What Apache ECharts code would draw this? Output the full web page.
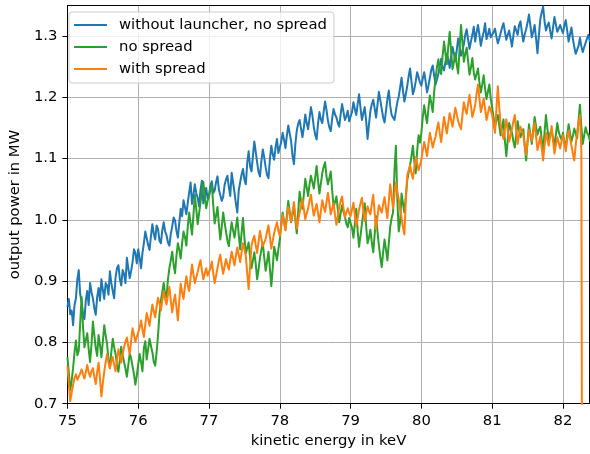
<!DOCTYPE html>
<html>
<head>
<meta charset="utf-8">
<script src="https://cdn.jsdelivr.net/npm/echarts@6/dist/echarts.min.js"></script>
<style>
html,body{margin:0;padding:0;background:#fff;}
#chart{width:590px;height:454px;}
</style>
</head>
<body>
<div id="chart"></div>
<script>
// kinetic energy sampling: each row covers one keV starting at X_START + rowIndex
const X_START = 75;
const X_STEP = 0.02;

// without launcher, no spread (MW)
const blueWithoutLauncher = [
 [0.858,0.871,0.846,0.852,0.828,0.861,0.872,0.903,0.918,0.879,0.866,0.847,0.838,0.869,0.884,0.861,0.897,0.882,0.872,0.856,0.845,0.874,0.889,0.868,0.903,0.886,0.871,0.897,0.893,0.878,0.916,0.897,0.884,0.872,0.906,0.921,0.926,0.904,0.893,0.918,0.912,0.897,0.938,0.921,0.905,0.917,0.931,0.952,0.946,0.929],
 [0.952,0.938,0.921,0.946,0.962,0.981,0.978,0.959,0.951,0.974,0.993,0.977,0.968,0.991,0.985,0.966,0.962,0.983,0.996,0.981,0.975,0.963,0.958,0.977,0.989,1.004,0.999,0.982,0.971,0.995,1.018,1.006,1.032,1.021,1.009,1.028,1.045,1.061,1.026,1.041,1.058,1.043,1.036,1.022,1.049,1.064,1.027,1.038,1.052,1.035],
 [1.041,1.056,1.063,1.044,1.048,1.062,1.071,1.049,1.052,1.031,1.038,1.057,1.066,1.072,1.054,1.039,1.077,1.061,1.045,1.026,1.012,1.048,1.061,1.074,1.083,1.066,1.058,1.093,1.112,1.087,1.079,1.104,1.128,1.111,1.094,1.078,1.071,1.096,1.115,1.102,1.086,1.073,1.068,1.099,1.121,1.107,1.098,1.118,1.132,1.109],
 [1.108,1.127,1.142,1.131,1.117,1.138,1.154,1.141,1.128,1.104,1.091,1.124,1.146,1.157,1.163,1.149,1.135,1.151,1.172,1.158,1.148,1.166,1.184,1.171,1.152,1.139,1.131,1.157,1.176,1.164,1.158,1.177,1.193,1.179,1.162,1.151,1.145,1.166,1.181,1.172,1.167,1.158,1.152,1.173,1.189,1.176,1.163,1.169,1.178,1.161],
 [1.158,1.176,1.192,1.181,1.171,1.189,1.205,1.183,1.163,1.174,1.184,1.161,1.132,1.156,1.178,1.189,1.196,1.182,1.167,1.188,1.209,1.195,1.181,1.167,1.159,1.178,1.197,1.211,1.186,1.171,1.172,1.163,1.178,1.192,1.201,1.216,1.232,1.211,1.193,1.205,1.218,1.234,1.247,1.226,1.205,1.213,1.226,1.241,1.238,1.224],
 [1.219,1.231,1.241,1.226,1.208,1.219,1.232,1.245,1.252,1.236,1.221,1.229,1.238,1.251,1.263,1.249,1.244,1.258,1.271,1.262,1.248,1.267,1.282,1.271,1.259,1.277,1.296,1.283,1.268,1.276,1.287,1.302,1.311,1.294,1.279,1.291,1.302,1.315,1.291,1.306,1.318,1.302,1.284,1.297,1.306,1.321,1.295,1.303,1.312,1.298],
 [1.297,1.306,1.312,1.299,1.288,1.296,1.305,1.314,1.321,1.307,1.294,1.302,1.309,1.296,1.283,1.301,1.316,1.309,1.302,1.318,1.324,1.306,1.291,1.303,1.311,1.322,1.335,1.317,1.298,1.307,1.318,1.296,1.272,1.301,1.327,1.339,1.348,1.324,1.309,1.317,1.322,1.308,1.296,1.314,1.331,1.319,1.307,1.312,1.318,1.311],
 [1.305,1.317,1.326,1.309,1.291,1.303,1.314,1.296,1.282,1.271,1.268,1.284,1.297,1.283,1.274,1.282,1.289,1.296,1.302,1.291,1.298]
];

// no spread (MW)
const greenNoSpread = [
 [0.776,0.751,0.722,0.738,0.758,0.784,0.803,0.779,0.786,0.831,0.874,0.826,0.792,0.804,0.815,0.789,0.768,0.797,0.834,0.812,0.791,0.778,0.812,0.796,0.776,0.801,0.828,0.812,0.797,0.772,0.758,0.784,0.806,0.792,0.781,0.764,0.752,0.771,0.793,0.779,0.768,0.757,0.744,0.763,0.782,0.774,0.761,0.748,0.731,0.746],
 [0.764,0.781,0.768,0.753,0.791,0.802,0.772,0.789,0.806,0.794,0.784,0.768,0.762,0.784,0.812,0.846,0.868,0.882,0.897,0.879,0.874,0.903,0.921,0.934,0.948,0.927,0.913,0.941,0.962,0.951,0.937,0.962,0.981,0.972,0.958,0.989,1.012,0.994,0.976,1.008,1.041,1.017,0.993,1.011,1.028,1.049,1.062,1.038,1.019,1.031],
 [1.038,1.049,1.057,1.024,0.994,1.007,1.021,0.992,0.968,0.989,1.012,0.996,0.981,0.966,0.957,0.978,0.996,0.983,0.971,0.988,1.004,0.976,0.952,0.979,1.003,0.971,0.945,0.954,0.963,0.939,0.921,0.934,0.947,0.928,0.903,0.919,0.938,0.951,0.962,0.939,0.917,0.932,0.948,0.921,0.892,0.921,0.956,0.946,0.934,0.952],
 [0.968,0.991,1.012,0.997,0.984,1.008,1.031,1.014,0.996,1.009,1.021,0.999,0.978,1.013,1.046,1.031,1.018,1.042,1.067,1.053,1.039,1.058,1.072,1.062,1.051,1.069,1.088,1.064,1.043,1.059,1.076,1.087,1.094,1.071,1.058,1.068,1.079,1.048,1.021,1.029,1.038,1.017,0.996,1.011,1.024,1.013,1.005,0.994,0.988,1.003],
 [1.002,0.987,0.971,0.994,1.018,0.982,0.956,0.974,0.993,1.011,1.027,0.989,0.962,0.971,0.984,0.963,0.947,0.976,1.006,0.981,0.958,0.939,0.923,0.947,0.968,0.952,0.934,0.962,0.989,1.003,1.012,1.081,1.121,1.034,0.981,0.996,1.043,1.027,1.012,1.038,1.064,1.077,1.089,1.104,1.121,1.096,1.076,1.112,1.138,1.126],
 [1.142,1.168,1.187,1.171,1.158,1.182,1.203,1.191,1.176,1.208,1.231,1.249,1.262,1.244,1.238,1.267,1.291,1.272,1.254,1.283,1.307,1.276,1.246,1.258,1.272,1.253,1.239,1.281,1.318,1.289,1.258,1.271,1.281,1.259,1.237,1.249,1.264,1.241,1.229,1.238,1.247,1.224,1.208,1.221,1.236,1.214,1.197,1.209,1.221,1.198],
 [1.183,1.167,1.152,1.163,1.171,1.154,1.138,1.151,1.164,1.129,1.104,1.131,1.158,1.149,1.142,1.128,1.118,1.139,1.161,1.147,1.135,1.142,1.148,1.121,1.097,1.128,1.156,1.139,1.124,1.146,1.168,1.152,1.139,1.147,1.152,1.131,1.114,1.143,1.171,1.149,1.132,1.141,1.147,1.133,1.121,1.139,1.158,1.144,1.136,1.131],
 [1.142,1.127,1.118,1.139,1.156,1.141,1.128,1.137,1.149,1.141,1.133,1.162,1.188,1.152,1.124,1.138,1.151,1.142,1.138,1.129,1.146]
];

// with spread (MW)
const orangeWithSpread = [
 [0.762,0.731,0.704,0.718,0.731,0.742,0.748,0.739,0.737,0.749,0.756,0.748,0.741,0.752,0.763,0.751,0.744,0.753,0.758,0.744,0.732,0.752,0.767,0.741,0.712,0.733,0.752,0.768,0.781,0.767,0.758,0.769,0.776,0.764,0.753,0.771,0.789,0.778,0.767,0.781,0.792,0.801,0.808,0.793,0.781,0.803,0.823,0.812,0.801,0.809],
 [0.812,0.824,0.836,0.821,0.809,0.829,0.848,0.838,0.827,0.846,0.862,0.851,0.841,0.859,0.873,0.864,0.852,0.869,0.884,0.871,0.862,0.878,0.891,0.868,0.849,0.866,0.878,0.857,0.836,0.868,0.896,0.882,0.871,0.892,0.908,0.893,0.884,0.906,0.927,0.911,0.897,0.906,0.915,0.926,0.934,0.917,0.903,0.912,0.921,0.909],
 [0.908,0.921,0.932,0.913,0.897,0.909,0.921,0.934,0.943,0.926,0.912,0.924,0.936,0.927,0.919,0.934,0.948,0.937,0.926,0.941,0.955,0.943,0.931,0.947,0.962,0.952,0.941,0.913,0.887,0.924,0.958,0.967,0.974,0.959,0.946,0.965,0.982,0.969,0.957,0.963,0.969,0.981,0.991,0.972,0.953,0.966,0.978,0.988,0.996,0.982],
 [0.974,0.991,1.008,0.996,0.983,1.002,1.021,1.009,0.997,1.014,1.029,1.006,0.986,0.999,1.012,1.023,1.034,1.017,1.001,1.011,1.018,1.031,1.041,1.022,1.007,1.017,1.026,1.011,0.996,1.014,1.032,1.021,1.013,1.029,1.044,1.027,1.009,1.018,1.027,1.008,0.992,1.006,1.021,1.031,1.038,1.019,1.004,1.012,1.019,1.011],
 [1.006,1.017,1.028,1.008,0.989,1.003,1.017,1.027,1.036,1.016,0.998,1.011,1.022,1.014,1.009,1.026,1.041,1.012,0.985,1.004,1.024,1.018,1.012,1.026,1.037,1.019,1.003,1.031,1.058,1.038,1.019,1.041,1.061,1.046,1.034,1.017,1.003,0.988,0.976,1.031,1.072,1.081,1.089,1.076,1.067,1.084,1.102,1.093,1.081,1.089],
 [1.098,1.114,1.127,1.116,1.104,1.123,1.142,1.131,1.118,1.127,1.136,1.148,1.159,1.141,1.127,1.149,1.168,1.154,1.141,1.158,1.174,1.163,1.152,1.168,1.183,1.172,1.161,1.154,1.148,1.171,1.192,1.181,1.173,1.189,1.204,1.186,1.168,1.177,1.187,1.206,1.221,1.198,1.176,1.187,1.198,1.181,1.163,1.174,1.185,1.179],
 [1.171,1.156,1.142,1.181,1.218,1.184,1.153,1.141,1.132,1.148,1.164,1.146,1.128,1.138,1.149,1.161,1.171,1.146,1.124,1.139,1.152,1.145,1.138,1.121,1.106,1.127,1.147,1.138,1.129,1.144,1.158,1.136,1.114,1.125,1.136,1.117,1.097,1.121,1.142,1.131,1.121,1.137,1.153,1.129,1.108,1.122,1.135,1.126,1.117,1.128],
 [1.138,1.125,1.112,1.131,1.146,1.133,1.121,1.108,1.097,1.122,1.143,1.158,1.171,1.112,0.0,0.0,0.0,0.0,0.0,0.0,0.0]
];

const seriesNames = ['without launcher, no spread', 'no spread', 'with spread'];
const seriesColors = ['#1f77b4', '#2ca02c', '#ff7f0e'];
const X_MIN = 75, X_MAX = 82.375, X_TICK = 1;
const Y_MIN = 0.7, Y_MAX = 1.35, Y_TICK = 0.1;

function toPairs(rows) {
  const out = [];
  rows.forEach((row, r) => row.forEach((v, j) => out.push([+(X_START + r + j * X_STEP).toFixed(2), v])));
  return out;
}

const FONT = 'DejaVu Sans';
const FS = 14.8;
const chart = echarts.init(document.getElementById('chart'), null, {renderer: 'canvas'});

const frameAxis = (type, pos) => ({
  type: 'value', position: pos, min: type === 'x' ? X_MIN : Y_MIN, max: type === 'x' ? X_MAX : Y_MAX,
  axisLine: {show: true, onZero: false, lineStyle: {color: '#000', width: 1}},
  axisTick: {show: false}, axisLabel: {show: false}, splitLine: {show: false}
});

chart.setOption({
  animation: false,
  backgroundColor: '#fff',
  grid: {left: 62.7, right: 0.5, top: 5.4, bottom: 50.3, containLabel: false},
  legend: {
    orient: 'vertical', left: 69, top: 12,
    padding: [5, 7, 6, 5],
    itemGap: 6, itemWidth: 33, itemHeight: 2, icon: 'rect',
    backgroundColor: 'rgba(255,255,255,0.8)', borderColor: '#cccccc', borderWidth: 1, borderRadius: 3,
    textStyle: {fontFamily: FONT, fontSize: FS, color: '#000', lineHeight: 16, padding: [0, 0, 0, 7]},
    data: seriesNames
  },
  xAxis: [{
    type: 'value', min: X_MIN, max: X_MAX, interval: X_TICK,
    name: 'kinetic energy in keV', nameLocation: 'middle', nameGap: 30,
    nameTextStyle: {fontFamily: FONT, fontSize: FS, color: '#000'},
    axisLine: {show: true, onZero: false, lineStyle: {color: '#000', width: 1}},
    axisTick: {show: true, length: 5, lineStyle: {color: '#000', width: 1}},
    axisLabel: {show: true, margin: 10, fontFamily: FONT, fontSize: FS, color: '#000', showMaxLabel: false,
      formatter: v => (Math.abs(v - Math.round(v)) < 1e-6 ? String(Math.round(v)) : '')},
    splitLine: {show: true, lineStyle: {color: '#b0b0b0', width: 1}}
  }, frameAxis('x', 'top')],
  yAxis: [{
    type: 'value', min: Y_MIN, max: Y_MAX, interval: Y_TICK,
    name: 'output power in MW', nameLocation: 'middle', nameGap: 39,
    nameTextStyle: {fontFamily: FONT, fontSize: FS, color: '#000'},
    axisLine: {show: true, onZero: false, lineStyle: {color: '#000', width: 1}},
    axisTick: {show: true, length: 5, lineStyle: {color: '#000', width: 1}},
    axisLabel: {show: true, margin: 10, fontFamily: FONT, fontSize: FS, color: '#000', showMaxLabel: false,
      formatter: v => { const k = Math.round(v * 10); return Math.abs(v * 10 - k) < 1e-6 ? (k / 10).toFixed(1) : ''; }},
    splitLine: {show: true, lineStyle: {color: '#b0b0b0', width: 1}}
  }, frameAxis('y', 'right')],
  series: [blueWithoutLauncher, greenNoSpread, orangeWithSpread].map((rows, k) => ({
    name: seriesNames[k], type: 'line', xAxisIndex: 0, yAxisIndex: 0,
    data: toPairs(rows), showSymbol: false, symbol: 'none', clip: true,
    color: seriesColors[k],
    lineStyle: {color: seriesColors[k], width: 2, join: 'round'},
    z: 2 + k
  }))
});
</script>
</body>
</html>
